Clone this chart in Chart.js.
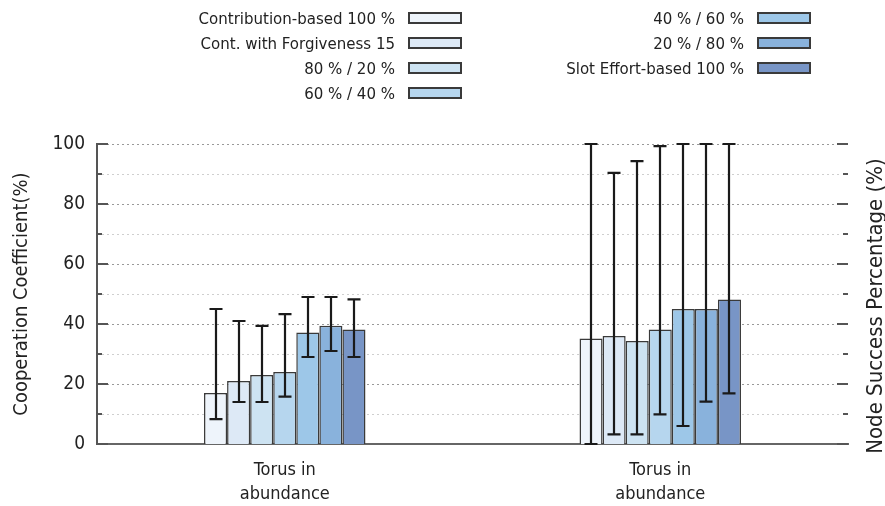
<!DOCTYPE html>
<html lang="en">
<head>
    <meta charset="UTF-8">
    <title>Cooperation Coefficient</title>
    <script src="https://cdn.jsdelivr.net/npm/chart.js@4.4.0/dist/chart.umd.min.js"></script>
    <style>
        body {
            margin: 0;
            padding: 0;
            background: #fff;
            font-family: 'DejaVu Sans', sans-serif;
            color: #222;
        }
        .wrap {
            position: relative;
            width: 885px;
            height: 506px;
        }
        #chart {
            position: absolute;
            left: 0;
            top: 0;
        }
        .legend {
            position: absolute;
            left: 0;
            top: 0;
            width: 885px;
            height: 100px;
            overflow: hidden;
        }
        .item {
            position: absolute;
            height: 20px;
            display: flex;
            align-items: center;
            font-family: 'DejaVu Sans Condensed', 'DejaVu Sans', sans-serif;
            font-size: 16.7px;
            white-space: nowrap;
        }
        .item span {
            text-align: right;
        }
        .item i {
            display: inline-block;
            width: 50px;
            height: 8px;
            border: 2px solid #3a3a3a;
            margin-left: 13px;
        }
    </style>
</head>
<body>
    <div class="wrap">
        <canvas id="chart" width="885" height="506"></canvas>
        <div class="legend" id="legend"></div>
    </div>

    <script>
        const categories = [['Torus in', 'abundance'], ['Torus in', 'abundance']];
        const seriesNames = [
            'Contribution-based 100 %',
            'Cont. with Forgiveness 15',
            '80 % / 20 %',
            '60 % / 40 %',
            '40 % / 60 %',
            '20 % / 80 %',
            'Slot Effort-based 100 %'
        ];
        const seriesColors = ['#eef4fb', '#dde9f6', '#cde3f2', '#b6d6ee', '#9dc7e8', '#89b2dc', '#7895c6'];
        // mean value per series, one entry per category
        const means = [
            [17, 35.2],
            [21, 36],
            [23, 34.3],
            [24, 38.2],
            [37.2, 45],
            [39.4, 45],
            [38.2, 48.2]
        ];
        // error bar ends
        const lows = [
            [8.3, 0],
            [14, 3.2],
            [14, 3.2],
            [15.8, 9.9],
            [29, 6],
            [31, 14.1],
            [29, 16.9]
        ];
        const highs = [
            [45, 100],
            [41, 90.4],
            [39.4, 94.3],
            [43.3, 99.3],
            [49, 100],
            [49, 100],
            [48.2, 100]
        ];
        const yMajor = [0, 20, 40, 60, 80, 100];
        const yMinor = [10, 30, 50, 70, 90];

        // legend, two columns with text in front of the swatch
        const legendEl = document.getElementById('legend');
        seriesNames.forEach((name, i) => {
            const col = i < 4 ? 0 : 1;
            const row = i < 4 ? i : i - 4;
            const item = document.createElement('div');
            item.className = 'item';
            const right = col === 0 ? 462 : 811;
            item.style.right = (885 - right) + 'px';
            item.style.top = (8 + row * 25) + 'px';
            item.innerHTML = '<span>' + name + '</span><i style="background:' + seriesColors[i] + '"></i>';
            legendEl.appendChild(item);
        });

        const decor = {
            id: 'decor',
            beforeDatasetsDraw(chart) {
                const { ctx, chartArea: a, scales: { y } } = chart;
                ctx.save();
                ctx.lineWidth = 1;
                ctx.setLineDash([2, 3]);
                const lines = [[yMajor, '#999'], [yMinor, '#cfcfcf']];
                lines.forEach(([vals, col]) => {
                    ctx.strokeStyle = col;
                    vals.forEach(v => {
                        if (v === 0) return;
                        const py = Math.round(y.getPixelForValue(v)) + 0.5;
                        ctx.beginPath();
                        ctx.moveTo(a.left, py);
                        ctx.lineTo(a.right - 6, py);
                        ctx.stroke();
                    });
                });
                ctx.restore();
            },
            afterDatasetsDraw(chart) {
                const { ctx, chartArea: a, scales: { y } } = chart;
                ctx.save();
                // error bars
                ctx.strokeStyle = '#1a1a1a';
                ctx.lineWidth = 2.2;
                chart.data.datasets.forEach((ds, di) => {
                    const meta = chart.getDatasetMeta(di);
                    meta.data.forEach((bar, i) => {
                        const x = Math.round(bar.x);
                        const yl = y.getPixelForValue(lows[di][i]);
                        const yh = y.getPixelForValue(highs[di][i]);
                        ctx.beginPath();
                        ctx.moveTo(x, yl);
                        ctx.lineTo(x, yh);
                        ctx.moveTo(x - 6.5, yl);
                        ctx.lineTo(x + 6.5, yl);
                        ctx.moveTo(x - 6.5, yh);
                        ctx.lineTo(x + 6.5, yh);
                        ctx.stroke();
                    });
                });
                // inward tick marks on both sides
                ctx.strokeStyle = '#555';
                ctx.lineWidth = 2;
                yMajor.forEach(v => {
                    const py = Math.round(y.getPixelForValue(v));
                    ctx.beginPath();
                    ctx.moveTo(a.left, py);
                    ctx.lineTo(a.left + 11, py);
                    ctx.moveTo(a.right, py);
                    ctx.lineTo(a.right - 11, py);
                    ctx.stroke();
                });
                yMinor.forEach(v => {
                    const py = Math.round(y.getPixelForValue(v));
                    ctx.beginPath();
                    ctx.moveTo(a.left, py);
                    ctx.lineTo(a.left + 5, py);
                    ctx.moveTo(a.right, py);
                    ctx.lineTo(a.right - 5, py);
                    ctx.stroke();
                });
                // right axis title
                ctx.translate(876, (a.top + a.bottom) / 2 + 12);
                ctx.rotate(-Math.PI / 2);
                ctx.fillStyle = '#222';
                ctx.font = '22px "DejaVu Sans Condensed", "DejaVu Sans"';
                ctx.textAlign = 'center';
                ctx.textBaseline = 'middle';
                ctx.fillText('Node Success Percentage (%)', 0, 0);
                ctx.restore();
            }
        };

        new Chart(document.getElementById('chart'), {
            type: 'bar',
            data: {
                labels: categories,
                datasets: seriesNames.map((name, i) => ({
                    label: name,
                    data: means[i],
                    backgroundColor: seriesColors[i],
                    borderColor: '#3a3a3a',
                    borderWidth: 1.5,
                    categoryPercentage: 0.43,
                    barPercentage: 1.0
                }))
            },
            options: {
                responsive: false,
                animation: false,
                layout: {
                    padding: { top: 144, right: 37, left: 0, bottom: 0 }
                },
                plugins: {
                    legend: { display: false },
                    tooltip: { enabled: false }
                },
                scales: {
                    x: {
                        grid: { display: false, drawTicks: false },
                        border: { display: true, color: '#666', width: 2 },
                        ticks: {
                            color: '#222',
                            font: { family: 'DejaVu Sans Condensed', size: 18, lineHeight: 1.35 },
                            padding: 14,
                            maxRotation: 0
                        },
                        afterFit(scale) { scale.height = 62; }
                    },
                    y: {
                        min: 0,
                        max: 100,
                        grid: { display: false, drawTicks: false },
                        border: { display: true, color: '#555', width: 2 },
                        ticks: {
                            stepSize: 20,
                            color: '#222',
                            font: { family: 'DejaVu Sans Condensed', size: 19 },
                            padding: 12
                        },
                        title: {
                            display: true,
                            text: 'Cooperation Coefficient(%)',
                            color: '#222',
                            font: { family: 'DejaVu Sans Condensed', size: 20 },
                            padding: { top: 10, bottom: 0 }
                        },
                        afterFit(scale) { scale.width = 97; }
                    }
                }
            },
            plugins: [decor]
        });
    </script>
</body>
</html>
